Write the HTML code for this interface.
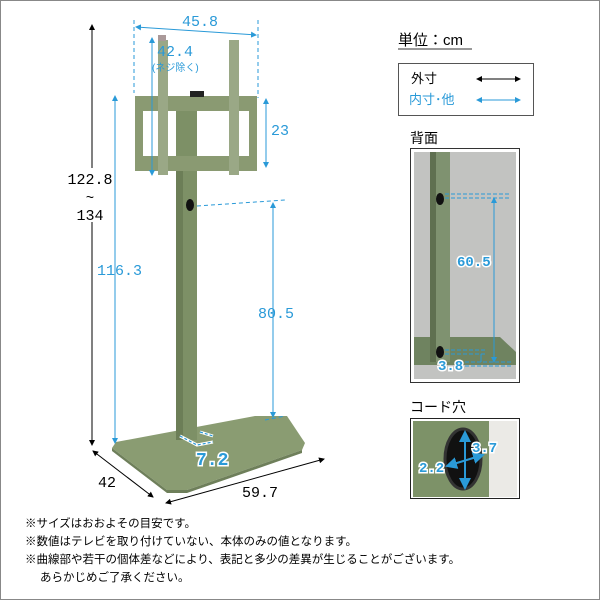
<!DOCTYPE html>
<html><head><meta charset="utf-8"><style>
html,body{margin:0;padding:0;background:#fff}
svg{display:block}
text{font-family:"Liberation Mono","Noto Sans CJK JP",monospace}
.jp{font-family:"Liberation Sans","Noto Sans CJK JP",sans-serif}
</style></head><body>
<svg width="600" height="600" viewBox="0 0 600 600" xmlns="http://www.w3.org/2000/svg">
<defs>
<marker id="ab" markerWidth="6" markerHeight="6" refX="5" refY="3" orient="auto-start-reverse"><path d="M0,0 L6,3 L0,6 z" fill="#000"/></marker>
<marker id="ac" markerWidth="6" markerHeight="6" refX="5" refY="3" orient="auto-start-reverse"><path d="M0,0 L6,3 L0,6 z" fill="#2a9ad8"/></marker>
</defs>
<rect x="0.5" y="0.5" width="599" height="599" fill="#fff" stroke="#888"/>

<!-- base -->
<polygon points="255,416 287,416 305,443 302,450 187,490 167,490 112,448 116,442" fill="#8a9c72"/>
<polygon points="112,448 167,490 187,490 302,450 302,453 187,493 167,493 112,451" fill="#6e7f5a"/>
<!-- column -->
<rect x="176" y="110" width="21" height="330" fill="#7d9066"/>
<rect x="176" y="110" width="7" height="330" fill="#6c7e57"/>
<ellipse cx="190" cy="205" rx="4" ry="6" fill="#111"/>
<!-- bracket frame -->
<rect x="135" y="96" width="122" height="75" fill="#8a9a72"/>
<rect x="143" y="111" width="33" height="45" fill="#fff"/>
<rect x="197" y="111" width="52" height="45" fill="#fff"/>
<rect x="176" y="111" width="21" height="45" fill="#7d9066"/>
<rect x="158" y="40" width="10" height="135" fill="#9aa886"/>
<rect x="229" y="40" width="10" height="135" fill="#9aa886"/>
<rect x="158" y="35" width="8" height="6" fill="#a99"/>
<rect x="190" y="91" width="14" height="6" fill="#222"/>

<!-- black dims -->
<line x1="92" y1="25" x2="92" y2="445" stroke="#000" marker-start="url(#ab)" marker-end="url(#ab)"/>
<rect x="64" y="168" width="56" height="54" fill="#fff"/>
<text x="90" y="184" font-size="15" text-anchor="middle">122.8</text>
<text x="90" y="202" font-size="14" text-anchor="middle">~</text>
<text x="90" y="220" font-size="15" text-anchor="middle">134</text>
<line x1="93" y1="451" x2="153" y2="497" stroke="#000" marker-start="url(#ab)" marker-end="url(#ab)"/>
<text x="98" y="487" font-size="15">42</text>
<line x1="166" y1="503" x2="324" y2="459" stroke="#000" marker-start="url(#ab)" marker-end="url(#ab)"/>
<text x="242" y="497" font-size="15">59.7</text>

<!-- blue dims -->
<g stroke="#2a9ad8" fill="none">
<line x1="134" y1="20" x2="134" y2="93" stroke-dasharray="4,3"/>
<line x1="258" y1="20" x2="258" y2="98" stroke-dasharray="4,3"/>
<line x1="136" y1="27" x2="256" y2="35" marker-start="url(#ac)" marker-end="url(#ac)"/>
<line x1="152" y1="38" x2="152" y2="175" marker-start="url(#ac)" marker-end="url(#ac)"/>
<line x1="266" y1="99" x2="266" y2="167" marker-start="url(#ac)" marker-end="url(#ac)"/>
<line x1="115" y1="96" x2="115" y2="443" marker-start="url(#ac)" marker-end="url(#ac)"/>
<line x1="197" y1="206" x2="285" y2="200" stroke-dasharray="4,3"/>
<line x1="273" y1="203" x2="273" y2="417" marker-start="url(#ac)" marker-end="url(#ac)"/>
<line x1="265" y1="420" x2="285" y2="416" stroke-dasharray="4,3"/>
</g>
<g fill="#2a9ad8" font-size="15">
<text x="182" y="26">45.8</text>
<text x="157" y="56">42.4</text>
<text x="152" y="71" font-size="10" class="jp">(ネジ除く)</text>
<text x="271" y="135">23</text>
<text x="97" y="275">116.3</text>
<text x="258" y="318">80.5</text>
</g>
<g stroke="#fff" stroke-width="3" fill="none"><path d="M180,436 L197,445 L213,442 M200,432 L213,436"/></g>
<g stroke="#2a9ad8" stroke-width="1.2" fill="none" stroke-dasharray="3,2"><path d="M180,436 L197,445 L213,442 M200,432 L213,436"/></g>
<text x="196" y="465" font-size="18" font-weight="bold" fill="#2a9ad8" stroke="#fff" stroke-width="3" paint-order="stroke" font-family="Liberation Sans,sans-serif">7.2</text>

<!-- right panel -->
<text x="398" y="45" font-size="15" class="jp">単位：cm</text>
<line x1="398" y1="49" x2="472" y2="49" stroke="#999" stroke-width="2"/>
<rect x="398.5" y="63.5" width="135" height="52" fill="#fff" stroke="#555"/>
<text x="411" y="83" font-size="13" class="jp">外寸</text>
<line x1="477" y1="79" x2="520" y2="79" stroke="#000" marker-start="url(#ab)" marker-end="url(#ab)"/>
<text x="409" y="104" font-size="13" fill="#2a9ad8" class="jp">内寸･他</text>
<line x1="477" y1="100" x2="520" y2="100" stroke="#2a9ad8" marker-start="url(#ac)" marker-end="url(#ac)"/>

<text x="410" y="143" font-size="14" class="jp">背面</text>
<rect x="410.5" y="148.5" width="109" height="234" fill="#fff" stroke="#333"/>
<rect x="414" y="152" width="102" height="227" fill="#c2c3c1"/>
<polygon points="414,337 500,337 516,352 516,365 414,365" fill="#6f8360"/>
<rect x="430" y="152" width="20" height="210" fill="#7f9270"/>
<rect x="430" y="152" width="6" height="210" fill="#5f7050"/>
<ellipse cx="440" cy="199" rx="4" ry="6" fill="#111"/>
<ellipse cx="440" cy="352" rx="4" ry="6" fill="#111"/>
<g stroke="#2a9ad8" fill="none" stroke-dasharray="4,2">
<line x1="445" y1="194" x2="510" y2="194"/><line x1="445" y1="198" x2="510" y2="198"/>
<line x1="445" y1="350" x2="485" y2="350"/><line x1="445" y1="354" x2="485" y2="354"/>
<line x1="465" y1="362" x2="512" y2="362"/><line x1="465" y1="366" x2="512" y2="366"/>
</g>
<line x1="494" y1="198" x2="494" y2="362" stroke="#2a9ad8" marker-start="url(#ac)" marker-end="url(#ac)"/>
<line x1="481" y1="354" x2="481" y2="362" stroke="#2a9ad8"/>
<g font-size="14" font-weight="bold" fill="#2a9ad8" stroke="#fff" stroke-width="3" paint-order="stroke" font-family="Liberation Sans,sans-serif">
<text x="457" y="266">60.5</text>
<text x="438" y="370">3.8</text>
</g>

<text x="410" y="412" font-size="14" class="jp">コード穴</text>
<rect x="410.5" y="418.5" width="109" height="80" fill="#fff" stroke="#222"/>
<rect x="413" y="421" width="76" height="76" fill="#7d9268"/>
<rect x="489" y="421" width="28" height="76" fill="#ebeae6"/>
<ellipse cx="463" cy="459" rx="18" ry="30" fill="#111" stroke="#333" stroke-width="3"/>
<line x1="465" y1="432" x2="465" y2="488" stroke="#2a9ad8" stroke-width="2" marker-start="url(#ac)" marker-end="url(#ac)"/>
<line x1="447" y1="466" x2="483" y2="455" stroke="#2a9ad8" stroke-width="2" marker-start="url(#ac)" marker-end="url(#ac)"/>
<g font-size="14" font-weight="bold" fill="#2a9ad8" stroke="#fff" stroke-width="3" paint-order="stroke" font-family="Liberation Sans,sans-serif">
<text x="472" y="452">3.7</text>
<text x="419" y="472">2.2</text>
</g>

<!-- notes -->
<g font-size="11.5" class="jp">
<text x="25" y="527">※サイズはおおよその目安です。</text>
<text x="25" y="545">※数値はテレビを取り付けていない、本体のみの値となります。</text>
<text x="25" y="563">※曲線部や若干の個体差などにより、表記と多少の差異が生じることがございます。</text>
<text x="40" y="581">あらかじめご了承ください。</text>
</g>
</svg>
</body></html>
